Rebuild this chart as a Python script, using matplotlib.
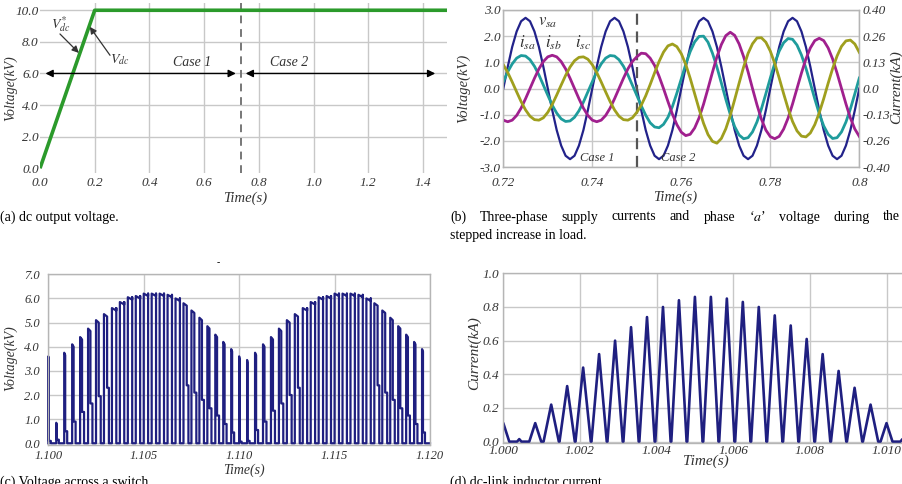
import numpy as np
import matplotlib
matplotlib.use('Agg')
import matplotlib.pyplot as plt

plt.rcParams['font.family'] = ['Liberation Serif', 'DejaVu Serif']
plt.rcParams['font.style'] = 'italic'
plt.rcParams['mathtext.fontset'] = 'stix'

W, H = 903, 484

# ---------------- data ----------------
# (a) dc output voltage (kV)
t_a = [0.0, 0.2, 1.49]
vdc_a = [0.0, 10.0, 10.0]

# (b) phase-a voltage and supply currents, sampled every 1 ms from 0.72 s
t_b = np.round(0.720 + 0.001 * np.arange(81), 3)
vsa = [0.00, 0.83, 1.59, 2.18, 2.57, 2.70, 2.57, 2.18, 1.59, 0.83,
       0.00, -0.83, -1.59, -2.18, -2.57, -2.70, -2.57, -2.18, -1.59, -0.83,
       0.00, 0.83, 1.59, 2.18, 2.57, 2.70, 2.57, 2.18, 1.59, 0.83,
       0.00, -0.83, -1.59, -2.18, -2.57, -2.70, -2.57, -2.18, -1.59, -0.83,
       0.00, 0.83, 1.59, 2.18, 2.57, 2.70, 2.57, 2.18, 1.59, 0.83,
       0.00, -0.83, -1.59, -2.18, -2.57, -2.70, -2.57, -2.18, -1.59, -0.83,
       0.00, 0.83, 1.59, 2.18, 2.57, 2.70, 2.57, 2.18, 1.59, 0.83,
       0.00, -0.83, -1.59, -2.18, -2.57, -2.70, -2.57, -2.18, -1.59, -0.83,
       0.00]
# currents read against the left-hand grid (one division = 0.4/3 kA)
isa_div = [0.26, 0.64, 0.94, 1.16, 1.26, 1.24, 1.10, 0.85, 0.52, 0.13,
           -0.26, -0.64, -0.94, -1.16, -1.26, -1.24, -1.10, -0.85, -0.52, -0.13,
           0.26, 0.64, 0.94, 1.16, 1.26, 1.24, 1.10, 0.85, 0.52, 0.13,
           -0.26, -0.66, -1.02, -1.31, -1.47, -1.50, -1.37, -1.10, -0.69, -0.18,
           0.37, 0.92, 1.41, 1.78, 1.99, 2.00, 1.77, 1.35, 0.82, 0.21,
           -0.41, -0.99, -1.46, -1.78, -1.92, -1.88, -1.66, -1.28, -0.78, -0.20,
           0.40, 0.96, 1.43, 1.75, 1.91, 1.88, 1.66, 1.28, 0.78, 0.20,
           -0.40, -0.96, -1.43, -1.75, -1.91, -1.88, -1.66, -1.28, -0.78, -0.20,
           0.40]
isb_div = [-1.21, -1.27, -1.21, -1.03, -0.75, -0.39, 0.00, 0.39, 0.75, 1.03,
           1.21, 1.27, 1.21, 1.03, 0.75, 0.39, 0.00, -0.39, -0.75, -1.03,
           -1.21, -1.27, -1.21, -1.03, -0.75, -0.39, 0.00, 0.39, 0.75, 1.03,
           1.21, 1.35, 1.33, 1.16, 0.88, 0.47, 0.00, -0.50, -0.98, -1.38,
           -1.67, -1.80, -1.75, -1.51, -1.12, -0.60, 0.00, 0.62, 1.21, 1.68,
           2.02, 2.15, 2.03, 1.70, 1.22, 0.64, 0.00, -0.62, -1.17, -1.59,
           -1.84, -1.92, -1.83, -1.55, -1.13, -0.59, 0.00, 0.59, 1.13, 1.55,
           1.83, 1.92, 1.83, 1.55, 1.13, 0.59, 0.00, -0.59, -1.13, -1.55,
           -1.83]
isc_div = [0.91, 0.61, 0.25, -0.13, -0.50, -0.82, -1.06, -1.19, -1.21, -1.12,
           -0.91, -0.61, -0.25, 0.13, 0.50, 0.82, 1.06, 1.19, 1.21, 1.12,
           0.91, 0.61, 0.25, -0.13, -0.50, -0.82, -1.06, -1.19, -1.21, -1.12,
           -0.91, -0.64, -0.28, 0.15, 0.60, 1.03, 1.39, 1.63, 1.70, 1.60,
           1.33, 0.92, 0.39, -0.20, -0.79, -1.33, -1.76, -2.02, -2.09, -1.91,
           -1.54, -1.03, -0.42, 0.21, 0.82, 1.34, 1.71, 1.93, 1.94, 1.77,
           1.43, 0.96, 0.40, -0.20, -0.77, -1.26, -1.62, -1.82, -1.85, -1.70,
           -1.38, -0.93, -0.39, 0.20, 0.76, 1.24, 1.61, 1.82, 1.85, 1.70,
           1.38]
i_tick_labels = ['-0.40', '-0.26', '-0.13', '0.0', '0.13', '0.26', '0.40']

# (c) switch voltage: pulse top level and shoulder level per switching period (kV)
T_SW = 0.01 / 24
pulse_hi = [3.6, 0.85, 3.75, 4.1, 4.4, 4.75, 5.1, 5.35, 5.6, 5.85, 6.05, 6.1,
            6.2, 6.2, 6.2, 6.15, 6.0, 5.8, 5.5, 5.2, 4.85, 4.5, 4.2, 3.9,
            3.6, 3.45, 3.75, 4.1, 4.4, 4.75, 5.1, 5.35, 5.6, 5.85, 6.05, 6.1,
            6.2, 6.2, 6.2, 6.15, 6.0, 5.8, 5.5, 5.2, 4.85, 4.5, 4.2, 3.9]
pulse_sh = [0.1, 0.15, 0.5, 0.9, 1.3, 1.65, 1.95, 2.3, None, None, None, None,
            None, None, None, None, None, 2.4, 2.1, 1.8, 1.45, 1.15, 0.8, 0.45,
            0.07, 0.1, 0.55, 0.9, 1.35, 1.65, 2.0, 2.3, None, None, None, None,
            None, None, None, None, None, 2.4, 2.1, 1.8, 1.45, 1.15, 0.8, 0.45]

# (d) dc-link inductor current peaks (kA), one per switching period from 1.000 s
peak_d = [0.11, 0.015, 0.11, 0.22, 0.33, 0.44, 0.52, 0.60, 0.68, 0.74, 0.80,
          0.84, 0.86, 0.86, 0.85, 0.83, 0.80, 0.75, 0.69, 0.61, 0.52, 0.42,
          0.32, 0.22, 0.11, 0.015]

NAVY = '#1f1f80'
GRID = '#c8c8c8'
TXT = '#333333'


def box(l, t, r, b):
    return [l / W, 1 - b / H, (r - l) / W, (b - t) / H]


def ftext(x, y, s, **kw):
    return fig.text(x / W, 1 - y / H, s, **kw)


def frame(ax, size=9.5):
    ax.tick_params(length=0, labelsize=size, colors=TXT)
    for s in ax.spines.values():
        s.set_color('#b5b5b5')
        s.set_linewidth(1.0)
    ax.grid(True, color=GRID, lw=1.0)
    ax.set_axisbelow(True)


fig = plt.figure(figsize=(W / 100, H / 100), dpi=100)

# ---------------- (a) ----------------
ax = fig.add_axes(box(40, 3, 447, 173))
ax.plot(t_a, vdc_a, color='#2b9a2b', lw=2.6, solid_capstyle='butt', zorder=3)
for v in [2, 4, 6, 8, 10]:
    ax.axhline(v, color=GRID, lw=1.0, zorder=0)
for t in [0.2, 0.4, 0.6, 0.8, 1.0, 1.2, 1.4]:
    ax.axvline(t, color=GRID, lw=1.0, zorder=0)
ax.axvline(0.735, color='#777777', lw=1.4, dashes=(4, 3), zorder=2)
ax.set_xlim(0, 1.488)
ax.set_ylim(-0.3, 10.46)
ax.set_xticks([0, 0.2, 0.4, 0.6, 0.8, 1.0, 1.2, 1.4])
ax.set_xticklabels(['0.0', '0.2', '0.4', '0.6', '0.8', '1.0', '1.2', '1.4'])
ax.set_yticks([0, 2, 4, 6, 8, 10])
ax.set_yticklabels(['0.0', '2.0', '4.0', '6.0', '8.0', '10.0'])
ax.tick_params(length=0, labelsize=9.5, colors=TXT)
ax.tick_params(axis='y', pad=1)
ax.tick_params(axis='x', pad=3)
for s in ax.spines.values():
    s.set_visible(False)
arr = dict(arrowstyle='<|-|>', color='black', lw=1.0, mutation_scale=11, shrinkA=0, shrinkB=0)
ax.annotate('', xy=(0.02, 6.0), xytext=(0.716, 6.0), arrowprops=arr)
ax.annotate('', xy=(0.752, 6.0), xytext=(1.445, 6.0), arrowprops=arr)
ax.text(0.555, 6.7, 'Case 1', fontsize=10, color=TXT, ha='center', va='center')
ax.text(0.91, 6.7, 'Case 2', fontsize=10, color=TXT, ha='center', va='center')
one = dict(arrowstyle='-|>', color='#333333', lw=0.9, mutation_scale=10, shrinkA=0, shrinkB=0)
ax.annotate('', xy=(0.142, 7.3), xytext=(0.073, 8.5), arrowprops=one)
ax.text(0.075, 9.1, r'$V^{*}_{dc}$', fontsize=10, color=TXT, ha='center', va='center')
ax.annotate('', xy=(0.182, 8.95), xytext=(0.256, 7.15), arrowprops=one)
ax.text(0.29, 6.85, r'$V_{dc}$', fontsize=10, color=TXT, ha='center', va='center')
ftext(11, 88, 'Voltage(kV)', rotation=90, fontsize=10, color=TXT, ha='center', va='center')
ftext(245, 198, 'Time(s)', fontsize=10.5, color=TXT, ha='center', va='center')
ftext(0, 217, '(a) dc output voltage.', fontsize=10, style='normal', ha='left', va='center')

# ---------------- (b) ----------------
ax = fig.add_axes(box(503.3, 10, 859.3, 167))
frame(ax)
i_scale = 0.4 / 3.0
ax2 = ax.twinx()
ax.plot(t_b, vsa, color='#22228a', lw=1.6, zorder=4)
ax2.plot(t_b, np.array(isa_div) * i_scale, color='#1f9c9c', lw=2.0)
ax2.plot(t_b, np.array(isb_div) * i_scale, color='#a0208e', lw=2.0)
ax2.plot(t_b, np.array(isc_div) * i_scale, color='#9f9f1e', lw=2.0)
ax.axvline(0.75, color='#555555', lw=1.6, dashes=(5, 3), zorder=5)
ax.set_xlim(0.72, 0.80)
ax.set_ylim(-3, 3)
ax2.set_ylim(-0.4, 0.4)
ax.set_xticks([0.72, 0.74, 0.76, 0.78, 0.80])
ax.set_xticklabels(['0.72', '0.74', '0.76', '0.78', '0.8'])
ax.set_yticks([-3, -2, -1, 0, 1, 2, 3])
ax.set_yticklabels(['-3.0', '-2.0', '-1.0', '0.0', '1.0', '2.0', '3.0'])
ax2.set_yticks(np.linspace(-0.4, 0.4, 7))
ax2.set_yticklabels(i_tick_labels)
ax.tick_params(axis='y', pad=2)
ax.tick_params(axis='x', pad=7)
ax2.tick_params(length=0, labelsize=9.5, colors=TXT, pad=2)
for s in ax2.spines.values():
    s.set_color('#b5b5b5')
ax.text(0.7299, 2.55, r'$v_{sa}$', fontsize=12, color=TXT, ha='center', va='center', zorder=6)
ax.text(0.7255, 1.74, r'$i_{sa}$', fontsize=12, color=TXT, ha='center', va='center', zorder=6)
ax.text(0.7312, 1.74, r'$i_{sb}$', fontsize=12, color=TXT, ha='center', va='center', zorder=6)
ax.text(0.7380, 1.74, r'$i_{sc}$', fontsize=12, color=TXT, ha='center', va='center', zorder=6)
ax.text(0.7411, -2.66, 'Case 1', fontsize=9, color=TXT, ha='center', va='center', zorder=6)
ax.text(0.7594, -2.66, 'Case 2', fontsize=9, color=TXT, ha='center', va='center', zorder=6)
ftext(463, 88, 'Voltage(kV)', rotation=90, fontsize=10.5, color=TXT, ha='center', va='center')
ftext(896, 87, 'Current(kA)', rotation=90, fontsize=11, color=TXT, ha='center', va='center')
ftext(675, 197, 'Time(s)', fontsize=10.5, color=TXT, ha='center', va='center')

# justified first caption line: spread words evenly between x=450 and x=900
words = ['(b)', 'Three-phase', 'supply', 'currents', 'and', 'phase',
         '\u2018$a$\u2019', 'voltage', 'during', 'the']
items = [ftext(450, 217, w, fontsize=10, style='normal', ha='left', va='center') for w in words]
renderer = fig.canvas.get_renderer()
widths = [it.get_window_extent(renderer).width for it in items]
gap = (900 - 450 - sum(widths)) / (len(words) - 1)
x = 450.0
for it, wd in zip(items, widths):
    it.set_x(x / W)
    x += wd + gap
ftext(450, 235, 'stepped increase in load.', fontsize=10, style='normal', ha='left', va='center')

# ---------------- (c) ----------------
tc, vc = [], []
for k, (hi, sh) in enumerate(zip(pulse_hi, pulse_sh)):
    t0 = 1.1 + k * T_SW
    if sh is None:
        a, b, sh = 0.55, 0.0, hi
    else:
        a = 0.05 + 0.15 * sh
        b = min(0.25, 0.62 - a)
    tc += [t0, t0, t0 + a * T_SW, t0 + a * T_SW, t0 + (a + b) * T_SW, t0 + (a + b) * T_SW]
    vc += [0.0, hi, hi - 0.1, sh, sh, 0.0]
tc.append(1.12)
vc.append(0.0)

ax = fig.add_axes(box(48.3, 274.3, 430, 444.5))
frame(ax, 9)
ax.plot(tc, vc, color=NAVY, lw=1.6, clip_on=False)
ax.set_xlim(1.100, 1.120)
ax.set_ylim(-0.05, 7.0)
ax.set_xticks([1.100, 1.105, 1.110, 1.115, 1.120])
ax.set_xticklabels(['1.100', '1.105', '1.110', '1.115', '1.120'])
ax.set_yticks(range(8))
ax.set_yticklabels(['%.1f' % v for v in range(8)])
ax.tick_params(axis='y', pad=6)
ax.tick_params(axis='x', pad=4)
ftext(11, 358, 'Voltage(kV)', rotation=90, fontsize=10, color=TXT, ha='center', va='center')
ftext(244, 470, 'Time(s)', fontsize=10, color=TXT, ha='center', va='center')
ftext(218, 263, '-', fontsize=7, style='normal', ha='center', va='center')
ftext(0, 476, '(c) Voltage across a switch.', fontsize=10, style='normal', ha='left', va='top')

# ---------------- (d) ----------------
td, idd = [], []
for k, p in enumerate(peak_d):
    c = 1.0 + k * T_SW
    w = min(0.48, 0.1 + 2.5 * p) * T_SW
    td += [c - w, c, c + w]
    idd += [0.0, p, 0.0]

ax = fig.add_axes(box(503.3, 273.3, 903, 442.5))
frame(ax)
ax.plot(td, idd, color=NAVY, lw=1.9, clip_on=True)
ax.set_xlim(1.000, 1.01043)
ax.set_ylim(-0.005, 1.0)
ax.set_xticks([1.000, 1.002, 1.004, 1.006, 1.008, 1.010])
ax.set_xticklabels(['1.000', '1.002', '1.004', '1.006', '1.008', '1.010'])
ax.set_yticks([0, 0.2, 0.4, 0.6, 0.8, 1.0])
ax.set_yticklabels(['0.0', '0.2', '0.4', '0.6', '0.8', '1.0'])
ax.tick_params(axis='y', pad=3)
ax.tick_params(axis='x', pad=2)
ftext(474, 353, 'Current(kA)', rotation=90, fontsize=11, color=TXT, ha='center', va='center')
ftext(706, 461, 'Time(s)', fontsize=11, color=TXT, ha='center', va='center')
ftext(450, 476, '(d) dc-link inductor current.', fontsize=10, style='normal', ha='left', va='top')

fig.savefig('out.png', dpi=100)
